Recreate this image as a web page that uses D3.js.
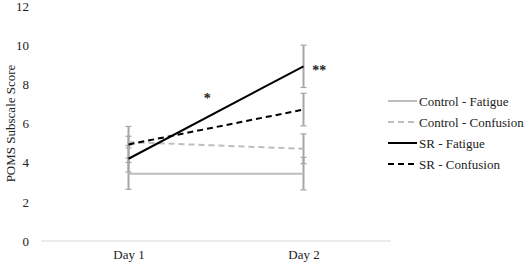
<!DOCTYPE html>
<html>
<head>
<meta charset="utf-8">
<script src="https://cdn.jsdelivr.net/npm/d3@7"></script>
<style>
  body { margin: 0; background: #fff; }
  svg text { font-family: "Liberation Serif", "DejaVu Serif", "Times New Roman", Times, serif; fill: #222; }
</style>
</head>
<body>
<div id="chart"></div>
<script>
// data
const days = ["Day 1", "Day 2"];
const seriesNames = ["Control - Fatigue", "Control - Confusion", "SR - Fatigue", "SR - Confusion"];
const controlFatigue = [3.44, 3.44];
const controlFatigueErr = [0.8, 0.83];
const controlConfusion = [5.05, 4.71];
const controlConfusionErr = [0.3, 0.76];
const srFatigue = [4.2, 8.92];
const srFatigueErr = [0.68, 1.08];
const srConfusion = [4.93, 6.71];
const srConfusionErr = [0.92, 0.83];
const yTicks = [0, 2, 4, 6, 8, 10, 12];
const starLabels = ["*", "**"];
const starPos = [0.45, 1.09];     // position between Day 1 (0) and Day 2 (1)
const starValue = [7.5, 8.95];

const fontStack = '"Liberation Serif", "DejaVu Serif", "Times New Roman", Times, serif';
const w = 529, h = 265;
const margin = {top: 6, bottom: 24, left: 41, right: 138};

const series = [
  {name: seriesNames[0], values: controlFatigue, err: controlFatigueErr, color: "#bdbdbd", dash: null},
  {name: seriesNames[1], values: controlConfusion, err: controlConfusionErr, color: "#bdbdbd", dash: "6,4"},
  {name: seriesNames[2], values: srFatigue, err: srFatigueErr, color: "#000", dash: null},
  {name: seriesNames[3], values: srConfusion, err: srConfusionErr, color: "#000", dash: "6,4"}
];

let svg = d3.select("#chart").append("svg")
  .attr("width", w).attr("height", h);

let x = d3.scalePoint()
  .domain(days)
  .range([margin.left, w - margin.right])
  .padding(0.5);

let y = d3.scaleLinear()
  .domain([0, 12])
  .range([h - margin.bottom, margin.top]);

// position between the two days
let xt = d3.scaleLinear().domain([0, 1]).range([x(days[0]), x(days[1])]);

// baseline
svg.append("line")
  .attr("x1", margin.left).attr("x2", w - margin.right)
  .attr("y1", y(0)).attr("y2", y(0))
  .attr("stroke", "#d9d9d9").attr("stroke-width", 1);

// y axis labels
let yAxis = svg.append("g")
  .attr("transform", "translate(" + (margin.left - 12) + ",0)")
  .call(d3.axisLeft(y).tickValues(yTicks).tickSize(0).tickPadding(0));
yAxis.attr("font-family", null);
yAxis.select(".domain").remove();
yAxis.selectAll("text")
  .style("font-family", fontStack).style("font-size", "13px").attr("fill", "#333");

// x axis labels
let xAxis = svg.append("g")
  .attr("transform", "translate(0," + (y(0) + 9) + ")")
  .call(d3.axisBottom(x).tickSize(0).tickPadding(0));
xAxis.attr("font-family", null);
xAxis.select(".domain").remove();
xAxis.selectAll("text")
  .style("font-family", fontStack).style("font-size", "13px").attr("fill", "#222");

// y title
svg.append("text")
  .attr("transform", "translate(15," + y(6) + ") rotate(-90)")
  .attr("text-anchor", "middle")
  .style("font-family", fontStack)
  .style("font-size", "13px")
  .attr("fill", "#333")
  .text("POMS Subscale Score");

// error bars
series.forEach(s => {
  let g = svg.append("g");
  days.forEach((d, i) => {
    let hi = y(s.values[i] + s.err[i]), lo = y(s.values[i] - s.err[i]);
    g.append("line")
      .attr("x1", x(d)).attr("x2", x(d))
      .attr("y1", hi).attr("y2", lo)
      .attr("stroke", "#a6a6a6").attr("stroke-width", 2);
    [hi, lo].forEach(yy => {
      g.append("line")
        .attr("x1", x(d) - 3).attr("x2", x(d) + 3)
        .attr("y1", yy).attr("y2", yy)
        .attr("stroke", "#a6a6a6").attr("stroke-width", 1.2);
    });
  });
});

// lines
let line = d3.line()
  .x((v, i) => x(days[i]))
  .y(v => y(v));

series.forEach(s => {
  svg.append("path")
    .datum(s.values)
    .attr("d", line)
    .attr("fill", "none")
    .attr("stroke", s.color)
    .attr("stroke-width", 2)
    .attr("stroke-dasharray", s.dash);
});

// significance stars
svg.selectAll(".star")
  .data(starLabels)
  .enter()
  .append("text")
  .attr("class", "star")
  .attr("x", (d, i) => xt(starPos[i]))
  .attr("y", (d, i) => y(starValue[i]) + 9)
  .attr("text-anchor", "middle")
  .style("font-family", fontStack)
  .style("font-size", "14px")
  .style("font-weight", "bold")
  .attr("fill", "#000")
  .text(d => d);

// legend
let legend = svg.append("g")
  .attr("transform", "translate(388,101)");

series.forEach((s, i) => {
  let row = legend.append("g").attr("transform", "translate(0," + (i * 21) + ")");
  row.append("line")
    .attr("x1", 0).attr("x2", 29)
    .attr("y1", 0).attr("y2", 0)
    .attr("stroke", s.color)
    .attr("stroke-width", 2)
    .attr("stroke-dasharray", s.dash);
  row.append("text")
    .attr("x", 31).attr("y", 4.5)
    .style("font-family", fontStack)
    .style("font-size", "13px")
    .attr("fill", "#222")
    .text(s.name);
});
</script>
</body>
</html>
